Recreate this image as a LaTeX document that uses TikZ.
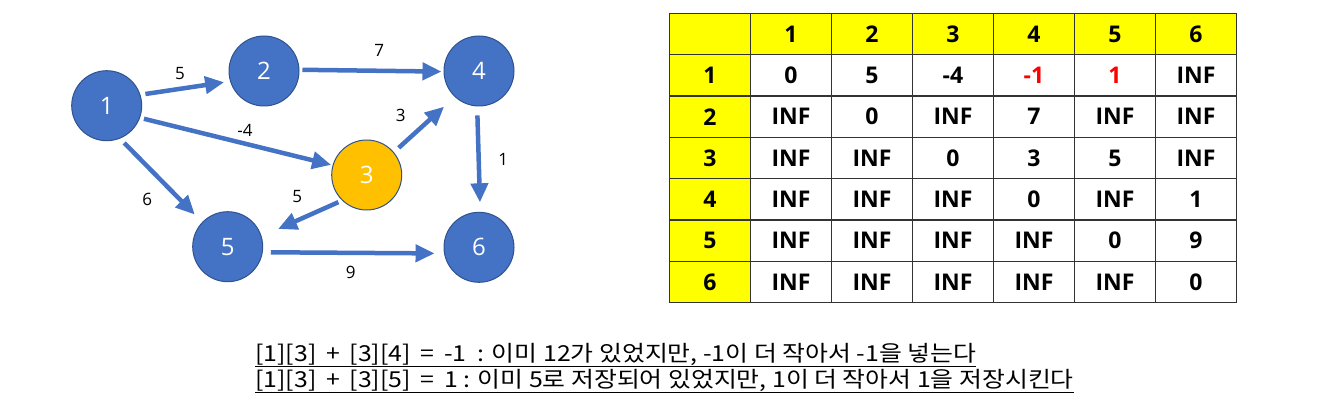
\documentclass[tikz,border=0pt]{standalone}
\usepackage{fontspec}
\setmainfont{Open Sans}
\newfontfamily\cjk{Noto Sans CJK KR}
\usepackage{xcolor}
\usetikzlibrary{positioning, arrows.meta, matrix}
\definecolor{vertex}{HTML}{4472C4}
\definecolor{vertexline}{HTML}{2F528F}
\definecolor{pivot}{HTML}{FFC000}
\definecolor{head}{HTML}{FFFF00}
\definecolor{gridline}{HTML}{333333}
\definecolor{update}{HTML}{FF0000}

\begin{document}
\begin{tikzpicture}[
    x=1pt, y=-1pt,
    vtx/.style={circle, draw=vertexline, line width=1pt, fill=vertex, text=white,
                minimum size=70pt, inner sep=0pt, font=\fontsize{24}{28}\selectfont},
    pvt/.style={vtx, fill=pivot},
    edge/.style={-{Triangle[length=19pt, width=17pt]}, line width=4.5pt, vertex},
    weight/.style={font=\fontsize{17}{20}\selectfont, inner sep=0pt},
    cell/.style={draw=gridline, line width=1.3pt, minimum width=81pt, minimum height=41.3pt,
                 inner sep=0pt, anchor=center, font=\fontsize{23}{26}\selectfont\bfseries},
    hdr/.style={fill=head},
    note/.style={font=\cjk\fontsize{22}{26}\selectfont, inner sep=0pt, anchor=base west}
  ]
    \useasboundingbox (0,0) rectangle (1320,406);

    % graph
    \node[vtx] (n1) at (106.7,105.7) {1};
    \node[vtx] (n2) at (264,71) {2};
    \node[pvt] (n3) at (366.7,175) {3};
    \node[vtx] (n4) at (479,71) {4};
    \node[vtx] (n5) at (227.7,246.7) {5};
    \node[vtx] (n6) at (479,247.3) {6};

    \draw[edge, shorten <=5pt, shorten >=6pt] (n1.18.7) -- (n2.197.5);
    \draw[edge, shorten <=3pt, shorten >=2pt] (n2.2.6) -- (n4.181);
    \draw[edge, shorten <=4pt, shorten >=1.5pt] (n1.-20.4) -- (n3.164);
    \draw[edge, shorten <=6pt, shorten >=10.5pt] (n1.-68.6) -- (n5.136);
    \draw[edge, shorten <=6.5pt, shorten >=14.5pt] (n3.40) -- (n4.-133);
    \draw[edge, shorten <=4pt, shorten >=18pt] (n3.226.7) -- (n5.17.5);
    \draw[edge, shorten <=9pt, shorten >=9.5pt] (n4.-93) -- (n6.88);
    \draw[edge, shorten <=8pt, shorten >=9.5pt] (n5.-9.8) -- (n6.190);

    \node[weight] (w12) at (180,73.3) {5};
    \node[weight] (w24) at (379.3,50.7) {7};
    \node[weight] (w13) at (245,130.7) {-4};
    \node[weight] (w15) at (147.3,199) {6};
    \node[weight] (w34) at (400.7,115.7) {3};
    \node[weight] (w35) at (297.3,196.7) {5};
    \node[weight] (w46) at (503.3,159.3) {1};
    \node[weight] (w56) at (350.7,272.7) {9};

    % distance table
    \matrix (dist) at (953,158) [matrix of nodes, nodes={cell},
        column sep=-1.3pt, row sep=-1.3pt,
        row 1/.style={nodes={hdr}}, column 1/.style={nodes={hdr}}] {
      {} & 1 & 2 & 3 & 4 & 5 & 6 \\
      1 & 0 & 5 & -4 & |[text=update]| -1 & |[text=update]| 1 & INF \\
      2 & INF & 0 & INF & 7 & INF & INF \\
      3 & INF & INF & 0 & 3 & 5 & INF \\
      4 & INF & INF & INF & 0 & INF & 1 \\
      5 & INF & INF & INF & INF & 0 & 9 \\
      6 & INF & INF & INF & INF & INF & 0 \\
    };

    % notes
    \node[note] (l1) at (255,361) {\scalebox{1.13}[1]{\underline{[1][3] \,+\, [3][4] \,=\, -1 \ : 이미 12가 있었지만, -1이 더 작아서 -1을 넣는다}}};
    \node[note] (l2) at (255,387) {\scalebox{1.13}[1]{\underline{[1][3] \,+\, [3][5] \,=\, 1 : 이미 5로 저장되어 있었지만, 1이 더 작아서 1을 저장시킨다}}};
  \end{tikzpicture}
\end{document}
